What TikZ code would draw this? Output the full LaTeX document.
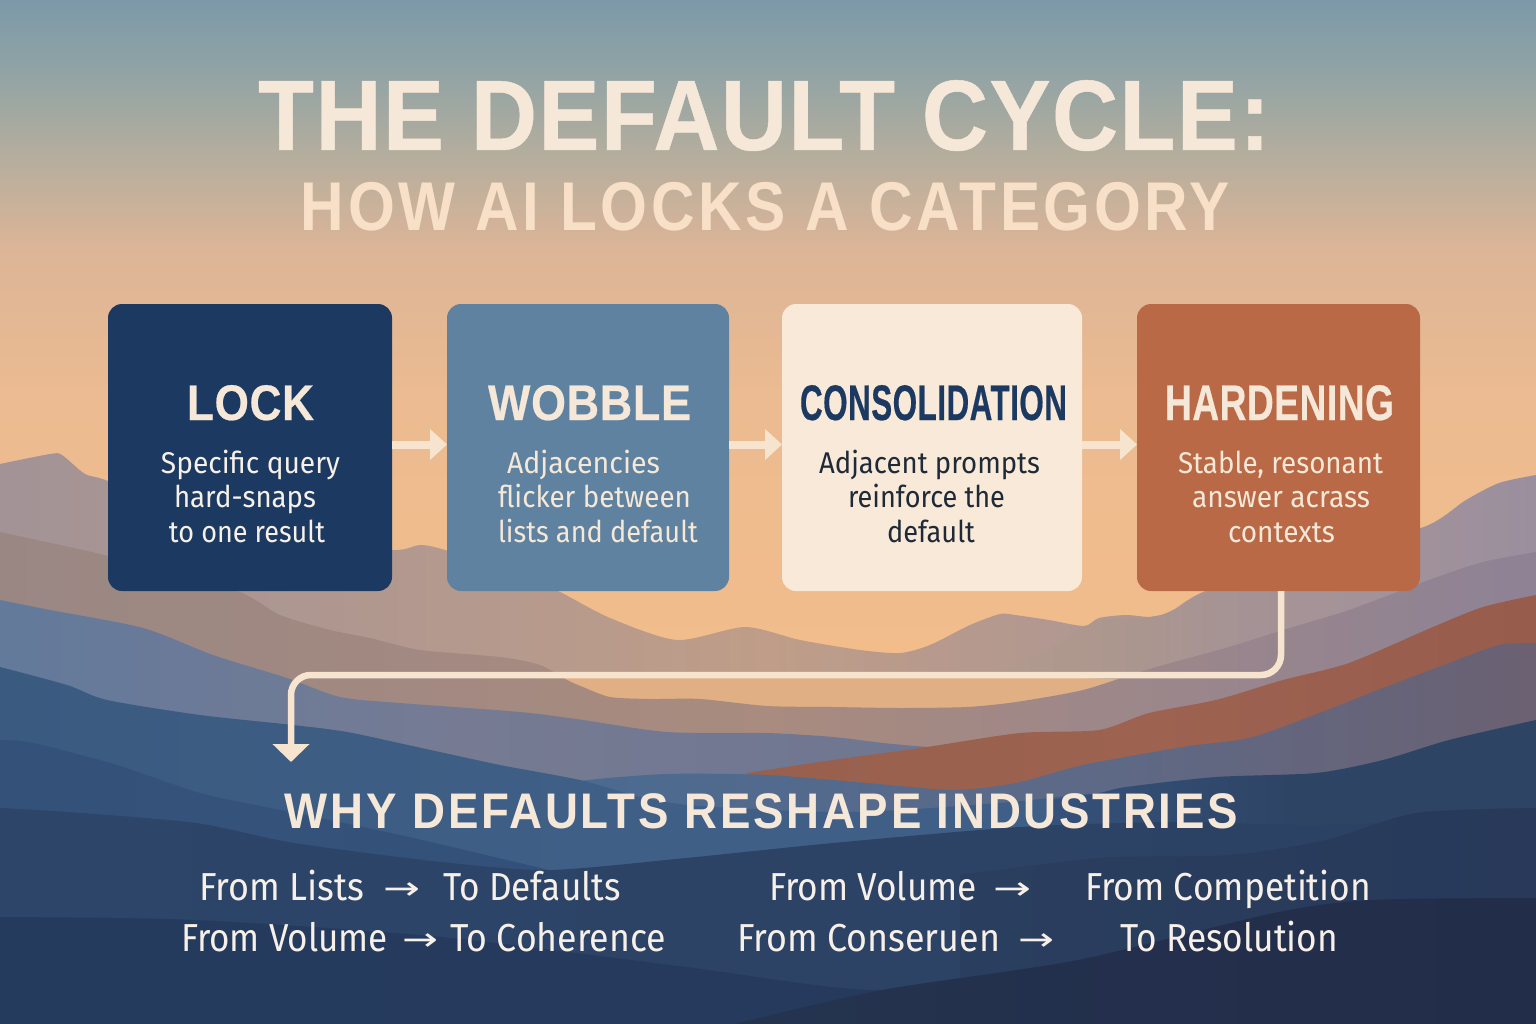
\documentclass[tikz,border=0pt]{standalone}
\usepackage{fontspec}
\usepackage{graphicx}
\usetikzlibrary{arrows.meta}
\setmainfont{Liberation Sans}
\newfontfamily\headf{Liberation Sans}[BoldFeatures={FakeBold=0.5,LetterSpace=1.5}]
\newfontfamily\heads{Liberation Sans}[BoldFeatures={LetterSpace=6}]
\newfontfamily\bodyf{Fira Sans}
\newfontfamily\symf{DejaVu Sans}
\definecolor{cream}{HTML}{F6E8D8}
\definecolor{creamline}{HTML}{F6E4CF}
\definecolor{navy}{HTML}{1C3A61}
\definecolor{steel}{HTML}{5E829F}
\definecolor{paper}{HTML}{F8E9D8}
\definecolor{rust}{HTML}{B96946}
\definecolor{ink}{HTML}{1E2A38}
\definecolor{white2}{HTML}{F6F0E8}
\newcommand\fittext[6]{%
  \pgfmathsetmacro\fitcx{(#2+#3)/2}%
  \pgfmathsetmacro\fitw{#3-#2}%
  \node[txt,text=#5] (#1) at (\fitcx,#4) {\resizebox{\fitw pt}{\height}{#6}};}
\newcommand\skyband[4]{%
  \definecolor{skyA}{HTML}{#2}\definecolor{skyB}{HTML}{#4}%
  \shade[top color=skyA,bottom color=skyB] (0,#1) rectangle (1536,#3);}
% mountain layer: three hex colours, closing path tail, top-edge coordinates
\newcommand\ridge[5]{%
  \definecolor{rA}{HTML}{#1}\definecolor{rB}{HTML}{#2}\definecolor{rC}{HTML}{#3}%
  \path[left color=rA,right color=rC,middle color=rB]
    plot[smooth,tension=0.45] coordinates {#5} #4 -- cycle;}
\tikzset{
  txt/.style={inner sep=0pt,outer sep=0pt,anchor=base},
  card/.style={rounded corners=14pt,minimum width=#1,minimum height=287pt,inner sep=0pt,outer sep=0pt},
  flow/.style={draw=creamline,line width=8pt,-{Triangle[width=30pt,length=17pt]}},
  long/.style={draw=creamline,line width=6.5pt,rounded corners=20pt,-{Triangle[width=36pt,length=18pt]}},
}
\newcommand\hT{\headf\bfseries\fontsize{100}{100}\selectfont}
\newcommand\hS{\heads\bfseries\fontsize{69}{69}\selectfont}
\newcommand\hB{\headf\bfseries\fontsize{50}{50}\selectfont}
\newcommand\hW{\heads\bfseries\fontsize{50}{50}\selectfont}
\newcommand\bB{\bodyf\fontsize{30}{30}\selectfont}
\newcommand\bF{\bodyf\fontsize{39}{39}\selectfont}
\newcommand\aF{\symf\fontsize{32}{32}\selectfont}
\begin{document}
\begin{tikzpicture}[x=1pt,y=-1pt]
\useasboundingbox (0,0) rectangle (1536,1024);
% sky
\skyband{0}{7D99A8}{62}{8DA2A6}
\skyband{61}{8DA2A6}{150}{B2AD9E}
\skyband{149}{B2AD9E}{250}{DCB597}
\skyband{249}{DCB597}{400}{ECBB91}
\skyband{399}{ECBB91}{700}{F3BD8A}
% back ridges
\ridge{A39396}{BF9D88}{9B8F9E}{-- (1536,800) -- (0,800)}{(0,464)(50,454)(62,455)(85,474)(108,481)(200,520)(300,540)(393,550)(420,545)(445,550)(520,575)(560,592)(610,618)(677,640)(745,627)(800,640)(860,650)(900,653)(930,645)(970,625)(1000,614)(1015,615)(1049,620)(1084,626)(1099,618)(1126,615)(1153,617)(1173,610)(1203,592)(1300,555)(1421,528)(1466,500)(1499,483)(1536,475)}
\fill[color={rgb,255:red,224;green,175;blue,131}] (560,676) rectangle (1145,730);
\ridge{B19A8D}{AB968F}{A39196}{-- (1283,640) -- (1143,680)}{(993,675)(1020,663)(1066,640)(1099,620)(1140,618)(1173,612)(1203,594)(1283,570)}
\ridge{9A8783}{A98B7F}{8E8295}{-- (1536,800) -- (0,800)}{(0,532)(60,545)(108,556)(170,575)(240,592)(280,615)(330,630)(370,638)(420,650)(500,657)(540,665)(567,680)(583,687)(610,697)(650,699)(700,699)(767,706)(833,707)(900,708)(967,707)(1016,702)(1083,690)(1146,670)(1229,647)(1283,630)(1349,610)(1429,580)(1483,562)(1536,552)}
\ridge{637A9B}{767B93}{6F7690}{-- (927,830) -- (0,830)}{(0,600)(50,610)(143,628)(213,655)(287,678)(340,697)(400,703)(520,712)(583,720)(667,732)(767,733)(833,737)(883,743)(927,747)}
\ridge{98604E}{9D6250}{975C4C}{-- (1536,800) -- (747,800)}{(747,773)(833,760)(927,747)(1020,733)(1099,730)(1149,713)(1216,700)(1283,680)(1349,663)(1433,627)(1483,607)(1536,595)}
\ridge{4A6A91}{5C6A88}{6B6172}{-- (1536,840) -- (560,840)}{(560,790)(580,781)(667,774)(767,775)(867,783)(953,790)(1016,783)(1083,765)(1183,747)(1249,738)(1309,717)(1383,688)(1449,663)(1499,645)(1536,643)}
\ridge{3A5A80}{3F5F86}{3F5F86}{-- (1200,1024) -- (0,1024)}{(0,667)(67,685)(107,700)(200,715)(293,725)(347,732)(417,747)(500,765)(580,780)(640,797)(700,806)(850,812)(1000,803)(1099,793)(1200,790)}
\ridge{35517A}{2E4465}{2E4465}{-- (1536,1024) -- (1050,1024)}{(1050,800)(1099,793)(1126,787)(1216,777)(1316,773)(1383,760)(1449,740)(1536,720)}
\ridge{34517A}{35527A}{33507A}{-- (549,880) -- (0,900)}{(0,740)(33,743)(117,765)(200,793)(280,810)(400,835)(549,870)}
\ridge{2C4568}{2C4366}{2C4264}{-- (1536,1024) -- (0,1024)}{(0,808)(67,812)(196,823)(294,843)(441,862)(549,870)(686,858)(833,843)(1020,827)(1176,822)(1326,825)(1536,815)}
\ridge{2A3E5F}{293C5C}{28395A}{-- (1536,1024) -- (960,1024)}{(960,875)(1100,858)(1230,855)(1326,840)(1416,813)(1536,808)}
\ridge{253B5E}{253A5C}{24375A}{-- (1536,1024) -- (0,1024)}{(0,917)(196,920)(441,937)(686,967)(882,990)(1078,960)(1274,913)(1372,900)(1536,898)}
\ridge{24344F}{232F4C}{222D49}{-- (1536,1024)}{(735,1024)(882,990)(1078,960)(1274,913)(1372,900)(1536,898)}

% cards
\node[card=284pt,fill=navy]  (lock)  at (250,447.5) {};
\node[card=282pt,fill=steel] (wobble) at (588,447.5) {};
\node[card=300pt,fill=paper] (cons)  at (932,447.5) {};
\node[card=283pt,fill=rust]  (hard)  at (1278.5,447.5) {};

% connectors
\draw[flow] ([yshift=3pt]lock.east) -- ([yshift=3pt]wobble.west);
\draw[flow] ([yshift=3pt]wobble.east) -- ([yshift=3pt]cons.west);
\draw[flow] ([yshift=3pt]cons.east) -- ([yshift=3pt]hard.west);
\coordinate (turn) at (291,675);
\coordinate (whytip) at (291,762);
\draw[long] ([xshift=2.5pt]hard.south) |- (turn) -- (whytip);

% titles
\fittext{t1}{258}{1270}{150}{cream}{\hT THE DEFAULT CYCLE:}
\fittext{t2}{301}{1230}{231}{cream!92!orange}{\hS HOW AI LOCKS A CATEGORY}

% card texts
\fittext{l0}{187}{314}{420}{cream}{\hB LOCK}
\fittext{l1}{161}{340}{473}{white2}{\bB Specific query}
\fittext{l2}{174}{316}{507}{white2}{\bB hard-snaps}
\fittext{l3}{169}{325}{542}{white2}{\bB to one result}

\fittext{w0}{488}{691}{420}{cream}{\hB WOBBLE}
\fittext{w1}{507}{660}{473}{cream}{\bB Adjacencies}
\fittext{w2}{498}{691}{507}{cream}{\bB flicker between}
\fittext{w3}{498}{698}{542}{cream}{\bB lists and default}

\fittext{c0}{800}{1067}{420}{navy}{\hB CONSOLIDATION}
\fittext{c1}{819}{1040}{473}{ink}{\bB Adjacent prompts}
\fittext{c2}{848}{1005}{507}{ink}{\bB reinforce the}
\fittext{c3}{887}{975}{542}{ink}{\bB default}

\fittext{h0}{1165}{1394}{420}{cream}{\hB HARDENING}
\fittext{h1}{1178}{1383}{473}{cream}{\bB Stable, resonant}
\fittext{h2}{1192}{1370}{507}{cream}{\bB answer acrass}
\fittext{h3}{1228}{1335}{542}{cream}{\bB contexts}

% bottom
\fittext{why}{285}{1238}{828}{cream}{\hW WHY DEFAULTS RESHAPE INDUSTRIES}
\fittext{a1}{199}{364}{900}{white2}{\bF From Lists}
\fittext{a2}{383}{420}{899}{white2}{\aF →}
\fittext{a3}{443}{621}{900}{white2}{\bF To Defaults}
\fittext{b1}{769}{977}{900}{white2}{\bF From Volume}
\fittext{b2}{993}{1031}{899}{white2}{\aF →}
\fittext{b3}{1085}{1371}{900}{white2}{\bF From Competition}
\fittext{d1}{181}{388}{951}{white2}{\bF From Volume}
\fittext{d2}{402}{438}{950}{white2}{\aF →}
\fittext{d3}{450}{666}{951}{white2}{\bF To Coherence}
\fittext{e1}{737}{1000}{951}{white2}{\bF From Conseruen}
\fittext{e2}{1018}{1054}{950}{white2}{\aF →}
\fittext{e3}{1120}{1338}{951}{white2}{\bF To Resolution}
\end{tikzpicture}
\end{document}
